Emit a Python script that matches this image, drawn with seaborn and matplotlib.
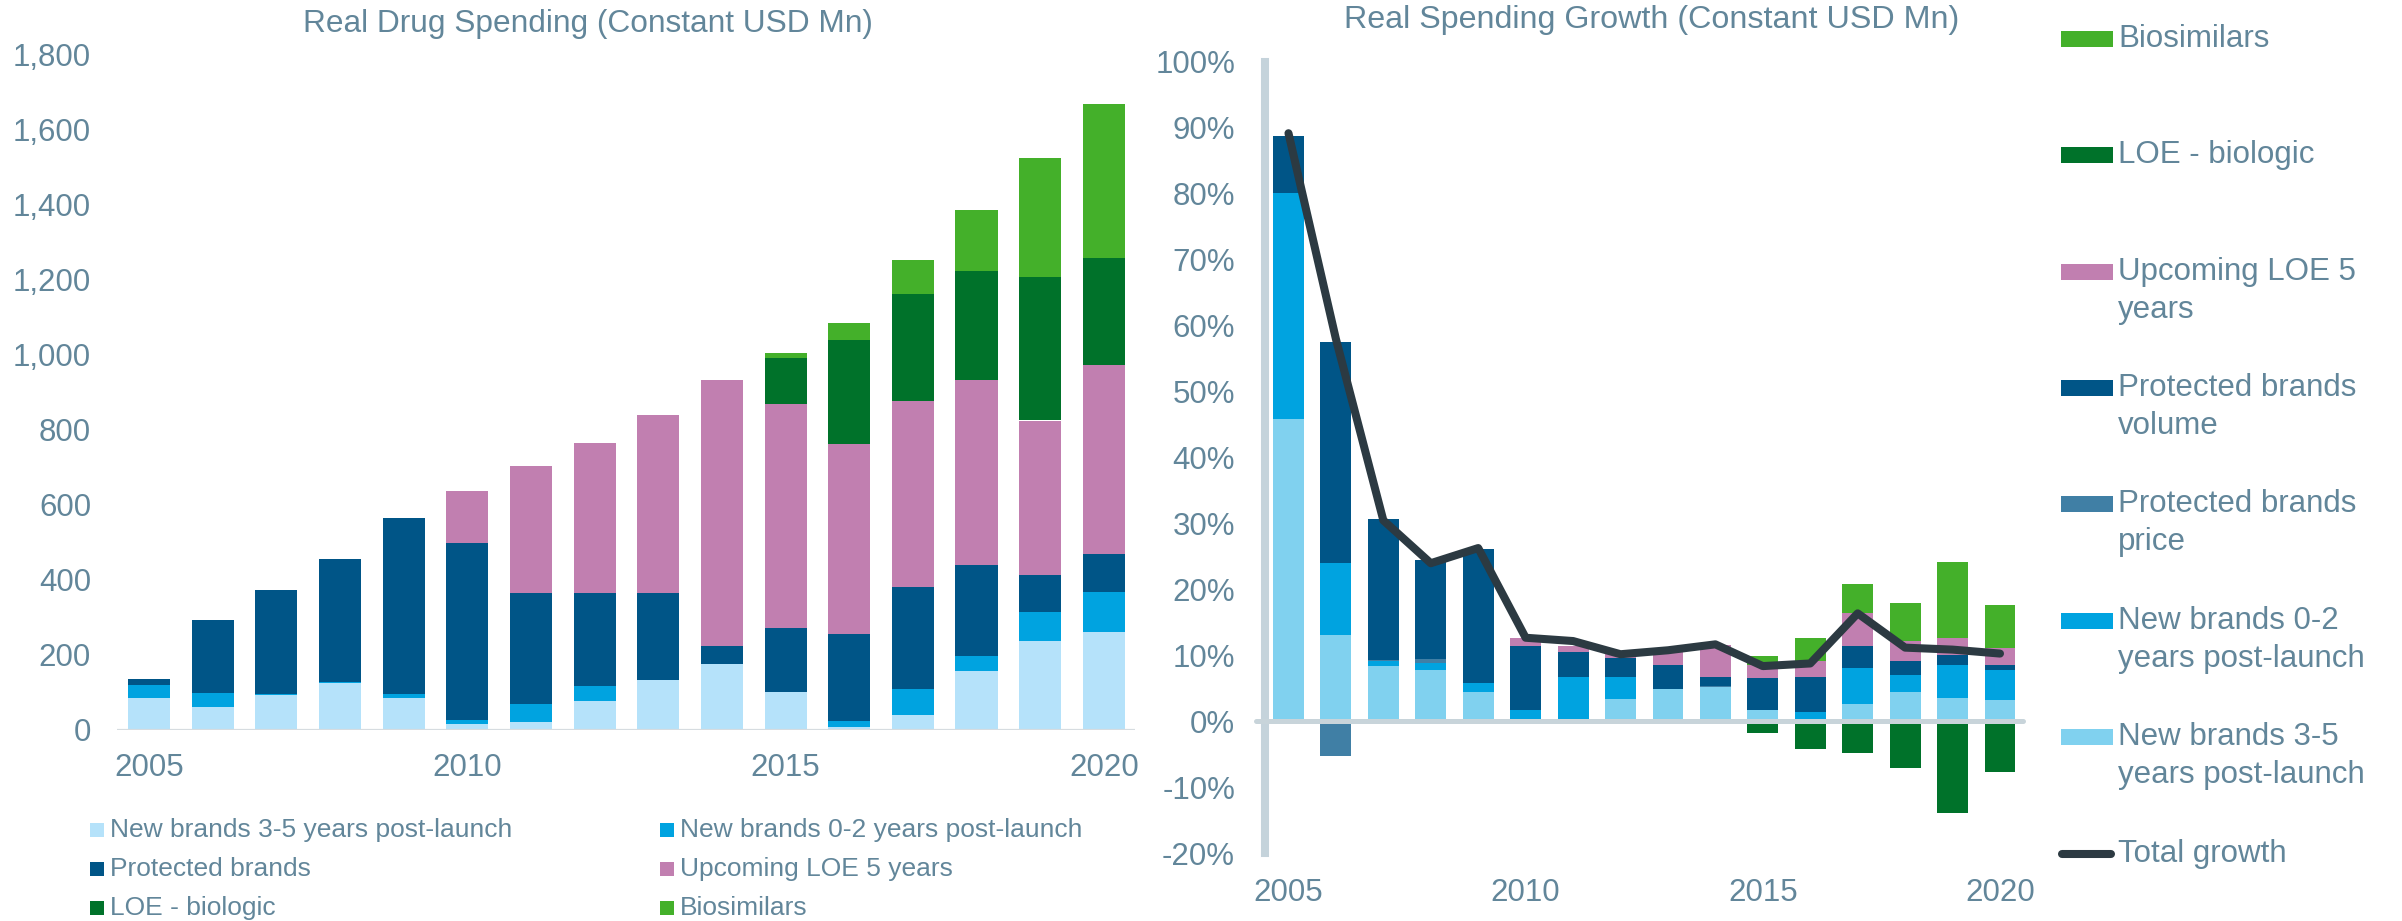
import matplotlib
matplotlib.use("Agg")

import matplotlib.pyplot as plt
import numpy as np
import pandas as pd
import seaborn as sns
from matplotlib.lines import Line2D
from matplotlib.patches import Rectangle
from matplotlib.ticker import FuncFormatter, MultipleLocator

# ------------------------------------------------------------
# Datos
# ------------------------------------------------------------
years = list(range(2005, 2021))

# Panel izquierdo: gasto real (USD Mn), valores por segmento
new_3_5 = [83, 61, 91, 123, 84, 16, 20, 77, 131, 174, 99, 6, 40, 155, 235, 261]
new_0_2 = [35, 37, 5, 3, 12, 9, 49, 40, 0, 2, 0, 16, 69, 41, 79, 105]
protected = [18, 193, 276, 328, 468, 473, 294, 247, 234, 46, 173, 232, 270, 242, 98, 101]
upcoming_loe = [0, 0, 0, 0, 0, 137, 339, 400, 475, 710, 597, 508, 497, 493, 412, 505]
loe_biologic = [0, 0, 0, 0, 0, 0, 0, 0, 0, 0, 122, 276, 286, 293, 382, 285]
biosimilars = [0, 0, 0, 0, 0, 0, 0, 0, 0, 0, 13, 46, 91, 161, 318, 412]

# Panel derecho: crecimiento real (%), contribución por segmento
g_new_3_5 = [45.9, 13.1, 8.4, 7.8, 4.4, 0.3, 0.3, 3.4, 5.0, 5.2, 1.8, 0.2, 2.7, 4.5, 3.6, 3.2]
g_new_0_2 = [34.2, 11.0, 0.8, 1.1, 1.5, 1.4, 6.4, 3.3, 0.0, 0.0, 0.0, 1.2, 5.4, 2.5, 5.0, 4.6]
g_price = [0.0, -5.3, 0.2, 0.6, 0.0, 0.0, 0.0, 0.0, 0.0, 0.2, 0.0, 0.0, 0.0, 0.0, 0.0, 0.0]
g_volume = [8.7, 33.4, 21.3, 15.0, 20.2, 9.8, 3.9, 3.0, 3.5, 1.4, 4.8, 5.4, 3.3, 2.1, 1.5, 0.8]
g_upcoming = [0.0, 0.0, 0.0, 0.0, 0.0, 1.2, 0.8, 0.5, 2.2, 4.8, 2.0, 2.4, 5.1, 3.1, 2.5, 2.5]
g_biosim = [0.0, 0.0, 0.0, 0.0, 0.0, 0.0, 0.0, 0.0, 0.0, 0.0, 1.3, 3.4, 4.3, 5.8, 11.6, 6.6]
g_loe = [0.0, 0.0, 0.0, 0.0, 0.0, 0.0, 0.0, 0.0, 0.0, 0.0, -1.7, -4.1, -4.8, -7.1, -13.8, -7.7]
total_growth = [89.2, 58.0, 30.5, 24.0, 26.3, 12.7, 12.2, 10.2, 10.8, 11.7, 8.4, 8.8, 16.4, 11.2, 10.9, 10.3]

# ------------------------------------------------------------
# Estilo
# ------------------------------------------------------------
sns.set_theme(style="white")
plt.rcParams["font.family"] = ["Liberation Sans", "DejaVu Sans"]

TEXT = "#62869A"
C_LIGHT_L = "#B5E2FA"
C_LIGHT_R = "#80D1EF"
C_BLUE = "#00A3E0"
C_DARK = "#005587"
C_PRICE = "#407FA5"
C_PINK = "#C17FB0"
C_DGREEN = "#00722A"
C_GREEN = "#44B02A"
C_LINE = "#2C3A42"

W, H = 2402, 921
fig = plt.figure(figsize=(W / 100, H / 100), dpi=100)


def fx(x):
    return x / W


def fy(y):
    return 1 - y / H


# ============================================================
# Panel izquierdo: barras apiladas
# ============================================================
ax1 = fig.add_axes([fx(117), fy(729.5), (1135 - 117) / W, (729.5 - 54.5) / H])

left_series = [
    ("New brands 3-5 years post-launch", new_3_5, C_LIGHT_L),
    ("New brands 0-2 years post-launch", new_0_2, C_BLUE),
    ("Protected brands", protected, C_DARK),
    ("Upcoming LOE 5 years", upcoming_loe, C_PINK),
    ("LOE - biologic", loe_biologic, C_DGREEN),
    ("Biosimilars", biosimilars, C_GREEN),
]
bottom = np.zeros(len(years))
for name, vals, col in left_series:
    ax1.bar(years, vals, bottom=bottom, width=0.66, color=col, linewidth=0, zorder=2)
    bottom += np.array(vals)

ax1.axhline(0, color="#D6DCE0", linewidth=1.6, zorder=3)
ax1.set_xlim(2004.497, 2020.49)
ax1.set_ylim(0, 1800)
ax1.yaxis.set_major_locator(MultipleLocator(200))
ax1.yaxis.set_major_formatter(FuncFormatter(lambda v, p: f"{v:,.0f}"))
ax1.set_xticks([2005, 2010, 2015, 2020])
ax1.tick_params(axis="y", length=0, pad=18.7, labelsize=22.5, labelcolor=TEXT)
ax1.tick_params(axis="x", length=0, pad=17, labelsize=22.5, labelcolor=TEXT)
for s in ax1.spines.values():
    s.set_visible(False)
ax1.grid(False)

fig.text(fx(588), fy(24), "Real Drug Spending (Constant USD Mn)", ha="center",
         va="center", fontsize=22.8, color=TEXT)

# Leyenda inferior (2 columnas, por filas)
rows_y = [830, 869, 908]
cols_x = [90, 660]
for i, (name, vals, col) in enumerate(left_series):
    cx = cols_x[i % 2]
    cy = rows_y[i // 2]
    fig.add_artist(Rectangle((fx(cx), fy(cy + 7)), 14 / W, 14 / H,
                             transform=fig.transFigure, color=col, linewidth=0))
    fig.text(fx(cx + 20), fy(cy), name, ha="left", va="center", fontsize=19, color=TEXT)

# ============================================================
# Panel derecho: contribuciones al crecimiento
# ============================================================
ax2 = fig.add_axes([fx(1265), fy(853.4), (2023 - 1265) / W, (853.4 - 62) / H])

right_series = [
    ("New brands 3-5\nyears post-launch", g_new_3_5, C_LIGHT_R),
    ("New brands 0-2\nyears post-launch", g_new_0_2, C_BLUE),
    ("Protected brands\nprice", g_price, C_PRICE),
    ("Protected brands\nvolume", g_volume, C_DARK),
    ("Upcoming LOE 5\nyears", g_upcoming, C_PINK),
    ("LOE - biologic", g_loe, C_DGREEN),
    ("Biosimilars", g_biosim, C_GREEN),
]
pos_bottom = np.zeros(len(years))
neg_bottom = np.zeros(len(years))
for name, vals, col in right_series:
    v = np.array(vals)
    base = np.where(v >= 0, pos_bottom, neg_bottom)
    ax2.bar(years, v, bottom=base, width=0.65, color=col, linewidth=0, zorder=2)
    pos_bottom += np.clip(v, 0, None)
    neg_bottom += np.clip(v, None, 0)

growth_df = pd.DataFrame({"year": years, "total": total_growth})
sns.lineplot(data=growth_df, x="year", y="total", ax=ax2, color=C_LINE, linewidth=5.8,
             solid_capstyle="round", solid_joinstyle="round", zorder=5)

ax2.axhline(0, xmin=-0.012, xmax=1, color="#C8D4DA", linewidth=3.6, zorder=4, clip_on=False)
ax2.set_xlim(2004.505, 2020.485)
ax2.set_ylim(-20, 100)
ax2.yaxis.set_major_locator(MultipleLocator(10))
ax2.yaxis.set_major_formatter(FuncFormatter(lambda v, p: f"{v:.0f}%"))
ax2.set_xticks([2005, 2010, 2015, 2020])
ax2.set_xlabel("")
ax2.set_ylabel("")
ax2.tick_params(axis="y", length=0, pad=21.6, labelsize=22.5, labelcolor=TEXT)
ax2.tick_params(axis="x", length=0, pad=18, labelsize=22.5, labelcolor=TEXT)
for k, s in ax2.spines.items():
    s.set_visible(k == "left")
ax2.spines["left"].set_color("#C5D3DB")
ax2.spines["left"].set_linewidth(5.8)
ax2.grid(False)

fig.text(fx(1652), fy(20), "Real Spending Growth (Constant USD Mn)", ha="center",
         va="center", fontsize=23.2, color=TEXT)

# Leyenda derecha (de arriba abajo)
legend_items = list(reversed(right_series))
for i, (name, vals, col) in enumerate(legend_items):
    cy = 38.8 + i * 116.4
    fig.add_artist(Rectangle((fx(2061), fy(cy + 8)), 52 / W, 16 / H,
                             transform=fig.transFigure, color=col, linewidth=0))
    for j, line in enumerate(name.split("\n")):
        fig.text(fx(2118), fy(cy + j * 38), line, ha="left", va="center",
                 fontsize=22.5, color=TEXT)

cy = 38.8 + 7 * 116.4
fig.add_artist(Line2D([fx(2062), fx(2111)], [fy(cy), fy(cy)], transform=fig.transFigure,
                      color=C_LINE, linewidth=5.8, solid_capstyle="round"))
fig.text(fx(2118), fy(cy), "Total growth", ha="left", va="center", fontsize=22.5, color=TEXT)

fig.savefig("out.png", dpi=100)
